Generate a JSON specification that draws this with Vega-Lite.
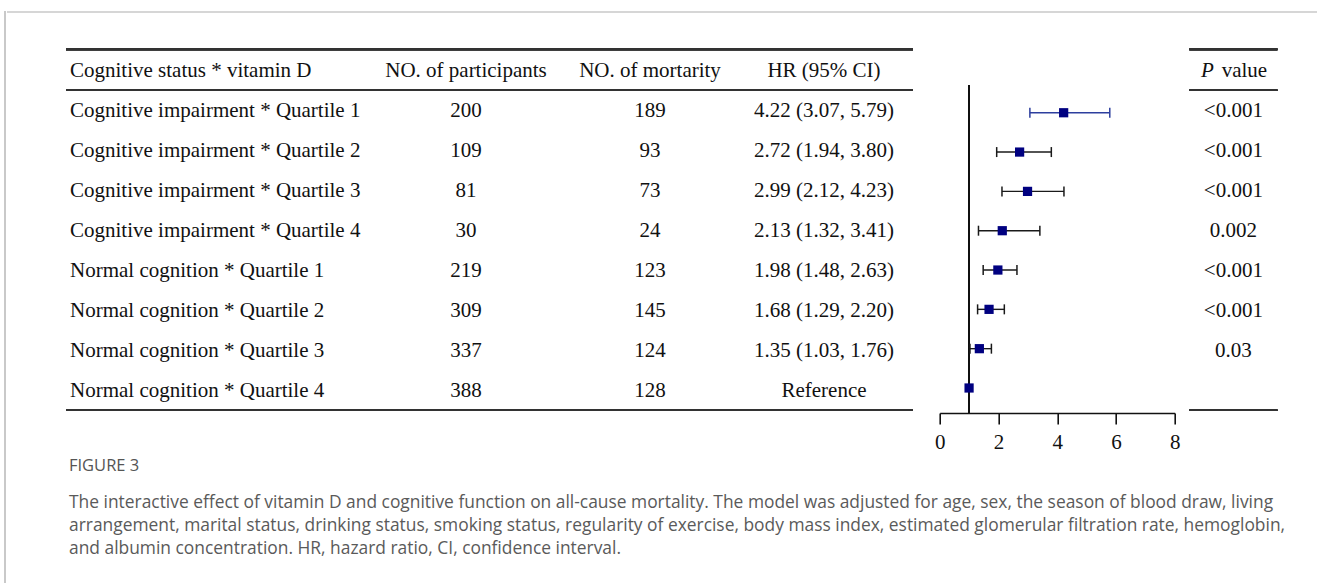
{
  "$schema": "https://vega.github.io/schema/vega-lite/v6.json",
  "padding": {"left": 4, "top": 10, "right": 0, "bottom": 0},
  "background": "white",
  "config": {
    "view": {"stroke": null},
    "font": "Liberation Serif",
    "text": {"font": "Liberation Serif", "fontSize": 21, "color": "#111111"}
  },
  "datasets": {
    "rows": [
      {"row": 0, "group": "Cognitive status * vitamin D", "n": "NO. of participants", "deaths": "NO. of mortarity", "hr": "HR (95% CI)", "p": null, "est": null, "lo": null, "hi": null},
      {"row": 1, "group": "Cognitive impairment * Quartile 1", "n": "200", "deaths": "189", "hr": "4.22 (3.07, 5.79)", "p": "<0.001", "est": 4.22, "lo": 3.07, "hi": 5.79},
      {"row": 2, "group": "Cognitive impairment * Quartile 2", "n": "109", "deaths": "93", "hr": "2.72 (1.94, 3.80)", "p": "<0.001", "est": 2.72, "lo": 1.94, "hi": 3.80},
      {"row": 3, "group": "Cognitive impairment * Quartile 3", "n": "81", "deaths": "73", "hr": "2.99 (2.12, 4.23)", "p": "<0.001", "est": 2.99, "lo": 2.12, "hi": 4.23},
      {"row": 4, "group": "Cognitive impairment * Quartile 4", "n": "30", "deaths": "24", "hr": "2.13 (1.32, 3.41)", "p": "0.002", "est": 2.13, "lo": 1.32, "hi": 3.41},
      {"row": 5, "group": "Normal cognition * Quartile 1", "n": "219", "deaths": "123", "hr": "1.98 (1.48, 2.63)", "p": "<0.001", "est": 1.98, "lo": 1.48, "hi": 2.63},
      {"row": 6, "group": "Normal cognition * Quartile 2", "n": "309", "deaths": "145", "hr": "1.68 (1.29, 2.20)", "p": "<0.001", "est": 1.68, "lo": 1.29, "hi": 2.20},
      {"row": 7, "group": "Normal cognition * Quartile 3", "n": "337", "deaths": "124", "hr": "1.35 (1.03, 1.76)", "p": "0.03", "est": 1.35, "lo": 1.03, "hi": 1.76},
      {"row": 8, "group": "Normal cognition * Quartile 4", "n": "388", "deaths": "128", "hr": "Reference", "p": null, "est": 1.0, "lo": null, "hi": null}
    ],
    "caption": [
      {"line": 0, "text": "FIGURE 3"},
      {"line": 1, "text": "The interactive effect of vitamin D and cognitive function on all-cause mortality. The model was adjusted for age, sex, the season of blood draw, living"},
      {"line": 2, "text": "arrangement, marital status, drinking status, smoking status, regularity of exercise, body mass index, estimated glomerular filtration rate, hemoglobin,"},
      {"line": 3, "text": "and albumin concentration. HR, hazard ratio, CI, confidence interval."}
    ]
  },
  "bounds": "flush",
  "spacing": 1,
  "hconcat": [
    {
      "width": 1,
      "height": 573,
      "data": {"values": [{}]},
      "mark": {"type": "rule", "color": "#c9c9c9", "strokeWidth": 2},
      "encoding": {"x": {"datum": 0, "type": "quantitative", "scale": {"domain": [0, 1]}, "axis": null}}
    },
    {
      "bounds": "flush",
      "spacing": 37,
      "vconcat": [
        {
          "width": 1311,
          "height": 1,
          "data": {"values": [{}]},
          "mark": {"type": "rule", "color": "#c9c9c9", "strokeWidth": 1.5},
          "encoding": {"y": {"datum": 0, "type": "quantitative", "scale": {"domain": [0, 1]}, "axis": null}}
        },
        {
          "bounds": "flush",
          "columns": 3,
          "align": "each",
          "spacing": {"row": 37, "column": 14.7},
          "concat": [
            {
              "width": 917.6,
              "height": 362,
              "data": {"name": "rows"},
              "layer": [
                {
                  "mark": {"type": "rule", "color": "#333333", "strokeWidth": 1.6},
                  "encoding": {
                    "x": {"datum": 0, "type": "quantitative", "scale": {"domain": [0, 1, 2, 3, 4, 5], "range": [59, 63, 459, 643, 817, 906]}, "axis": null},
                    "x2": {"datum": 5},
                    "y": {"datum": -0.54, "type": "quantitative", "scale": {"domain": [-0.55, 8.5], "reverse": true}, "axis": null}
                  }
                },
                {
                  "mark": {"type": "rule", "color": "#333333", "strokeWidth": 1.6},
                  "encoding": {
                    "x": {"datum": 0, "type": "quantitative", "scale": {"domain": [0, 1, 2, 3, 4, 5], "range": [59, 63, 459, 643, 817, 906]}, "axis": null},
                    "x2": {"datum": 5},
                    "y": {"datum": 0.48, "type": "quantitative", "scale": {"domain": [-0.55, 8.5], "reverse": true}, "axis": null}
                  }
                },
                {
                  "mark": {"type": "rule", "color": "#333333", "strokeWidth": 1.6},
                  "encoding": {
                    "x": {"datum": 0, "type": "quantitative", "scale": {"domain": [0, 1, 2, 3, 4, 5], "range": [59, 63, 459, 643, 817, 906]}, "axis": null},
                    "x2": {"datum": 5},
                    "y": {"datum": 8.48, "type": "quantitative", "scale": {"domain": [-0.55, 8.5], "reverse": true}, "axis": null}
                  }
                },
                {
                  "mark": {"type": "text", "align": "left"},
                  "encoding": {
                    "x": {"datum": 1, "type": "quantitative", "scale": {"domain": [0, 1, 2, 3, 4, 5], "range": [59, 63, 459, 643, 817, 906]}, "axis": null},
                    "y": {"field": "row", "type": "quantitative", "scale": {"domain": [-0.55, 8.5], "reverse": true}, "axis": null},
                    "text": {"field": "group"}
                  }
                },
                {
                  "mark": {"type": "text", "align": "center"},
                  "encoding": {
                    "x": {"datum": 2, "type": "quantitative", "scale": {"domain": [0, 1, 2, 3, 4, 5], "range": [59, 63, 459, 643, 817, 906]}, "axis": null},
                    "y": {"field": "row", "type": "quantitative", "scale": {"domain": [-0.55, 8.5], "reverse": true}, "axis": null},
                    "text": {"field": "n"}
                  }
                },
                {
                  "mark": {"type": "text", "align": "center"},
                  "encoding": {
                    "x": {"datum": 3, "type": "quantitative", "scale": {"domain": [0, 1, 2, 3, 4, 5], "range": [59, 63, 459, 643, 817, 906]}, "axis": null},
                    "y": {"field": "row", "type": "quantitative", "scale": {"domain": [-0.55, 8.5], "reverse": true}, "axis": null},
                    "text": {"field": "deaths"}
                  }
                },
                {
                  "mark": {"type": "text", "align": "center"},
                  "encoding": {
                    "x": {"datum": 4, "type": "quantitative", "scale": {"domain": [0, 1, 2, 3, 4, 5], "range": [59, 63, 459, 643, 817, 906]}, "axis": null},
                    "y": {"field": "row", "type": "quantitative", "scale": {"domain": [-0.55, 8.5], "reverse": true}, "axis": null},
                    "text": {"field": "hr"}
                  }
                }
              ]
            },
            {
              "width": 235,
              "height": 364,
              "data": {"name": "rows"},
              "transform": [{"filter": "datum.row >= 1"}],
              "encoding": {
                "y": {"field": "row", "type": "quantitative", "scale": {"domain": [-0.621, 8.636], "reverse": true}, "axis": null}
              },
              "layer": [
                {
                  "mark": {"type": "rule", "color": "#111111", "strokeWidth": 1.6},
                  "encoding": {
                    "x": {"datum": 1, "type": "quantitative"},
                    "y": {"datum": 0.3, "type": "quantitative"},
                    "y2": {"datum": 8.636}
                  }
                },
                {
                  "transform": [{"filter": "isValid(datum.lo)"}],
                  "mark": {"type": "rule", "strokeWidth": 1.4},
                  "encoding": {
                    "x": {"field": "lo", "type": "quantitative"},
                    "x2": {"field": "hi"},
                    "color": {"condition": {"test": "datum.row === 1", "value": "#2d3f9e"}, "value": "#1a1a1a"}
                  }
                },
                {
                  "transform": [{"filter": "isValid(datum.lo)"}],
                  "mark": {"type": "tick", "orient": "vertical", "size": 10, "thickness": 1.5, "opacity": 1},
                  "encoding": {
                    "x": {"field": "lo", "type": "quantitative"},
                    "color": {"condition": {"test": "datum.row === 1", "value": "#2d3f9e"}, "value": "#1a1a1a"}
                  }
                },
                {
                  "transform": [{"filter": "isValid(datum.hi)"}],
                  "mark": {"type": "tick", "orient": "vertical", "size": 10, "thickness": 1.5, "opacity": 1},
                  "encoding": {
                    "x": {"field": "hi", "type": "quantitative"},
                    "color": {"condition": {"test": "datum.row === 1", "value": "#2d3f9e"}, "value": "#1a1a1a"}
                  }
                },
                {
                  "mark": {"type": "square", "filled": true, "color": "#000080", "size": 85, "opacity": 1},
                  "encoding": {
                    "x": {
                      "field": "est",
                      "type": "quantitative",
                      "scale": {"domain": [0, 8], "nice": false, "zero": false},
                      "axis": {
                        "values": [0, 2, 4, 6, 8],
                        "title": null,
                        "grid": false,
                        "domainColor": "#111111",
                        "domainWidth": 1.6,
                        "tickColor": "#111111",
                        "tickWidth": 1.6,
                        "tickSize": 11,
                        "labelFont": "Liberation Serif",
                        "labelFontSize": 21,
                        "labelColor": "#111111",
                        "labelPadding": 7,
                        "labelFlush": false
                      }
                    }
                  }
                }
              ]
            },
            {
              "width": 88,
              "height": 362,
              "data": {"name": "rows"},
              "encoding": {
                "y": {"field": "row", "type": "quantitative", "scale": {"domain": [-0.55, 8.5], "reverse": true}, "axis": null}
              },
              "layer": [
                {
                  "mark": {"type": "rule", "color": "#333333", "strokeWidth": 1.6},
                  "encoding": {"y": {"datum": -0.54, "type": "quantitative"}}
                },
                {
                  "mark": {"type": "rule", "color": "#333333", "strokeWidth": 1.6},
                  "encoding": {"y": {"datum": 0.48, "type": "quantitative"}}
                },
                {
                  "mark": {"type": "rule", "color": "#333333", "strokeWidth": 1.6},
                  "encoding": {"y": {"datum": 8.48, "type": "quantitative"}}
                },
                {
                  "transform": [{"filter": "isValid(datum.p)"}],
                  "mark": {"type": "text", "align": "center"},
                  "encoding": {"text": {"field": "p"}}
                },
                {
                  "transform": [{"filter": "datum.row === 0"}],
                  "mark": {"type": "text", "align": "center", "fontStyle": "italic", "dx": -26},
                  "encoding": {"text": {"value": "P"}}
                },
                {
                  "transform": [{"filter": "datum.row === 0"}],
                  "mark": {"type": "text", "align": "center", "dx": 11},
                  "encoding": {"text": {"value": "value"}}
                }
              ]
            },
            {
              "width": 1,
              "height": 134,
              "data": {"name": "caption"},
              "encoding": {
                "x": {"datum": 0, "type": "quantitative", "scale": {"domain": [0, 1], "range": [62, 63]}, "axis": null},
                "y": {"field": "line", "type": "quantitative", "scale": {"domain": [0, 1, 3], "range": [16, 53, 99]}, "axis": null}
              },
              "layer": [
                {
                  "transform": [{"filter": "datum.line === 0"}],
                  "mark": {"type": "text", "align": "left", "font": "Open Sans", "fontSize": 16.5, "color": "#555555"},
                  "encoding": {"text": {"field": "text"}}
                },
                {
                  "transform": [{"filter": "datum.line >= 1"}],
                  "mark": {"type": "text", "align": "left", "font": "Open Sans", "fontSize": 17.4, "color": "#5a5a5a"},
                  "encoding": {"text": {"field": "text"}}
                }
              ]
            }
          ]
        }
      ]
    }
  ]
}
